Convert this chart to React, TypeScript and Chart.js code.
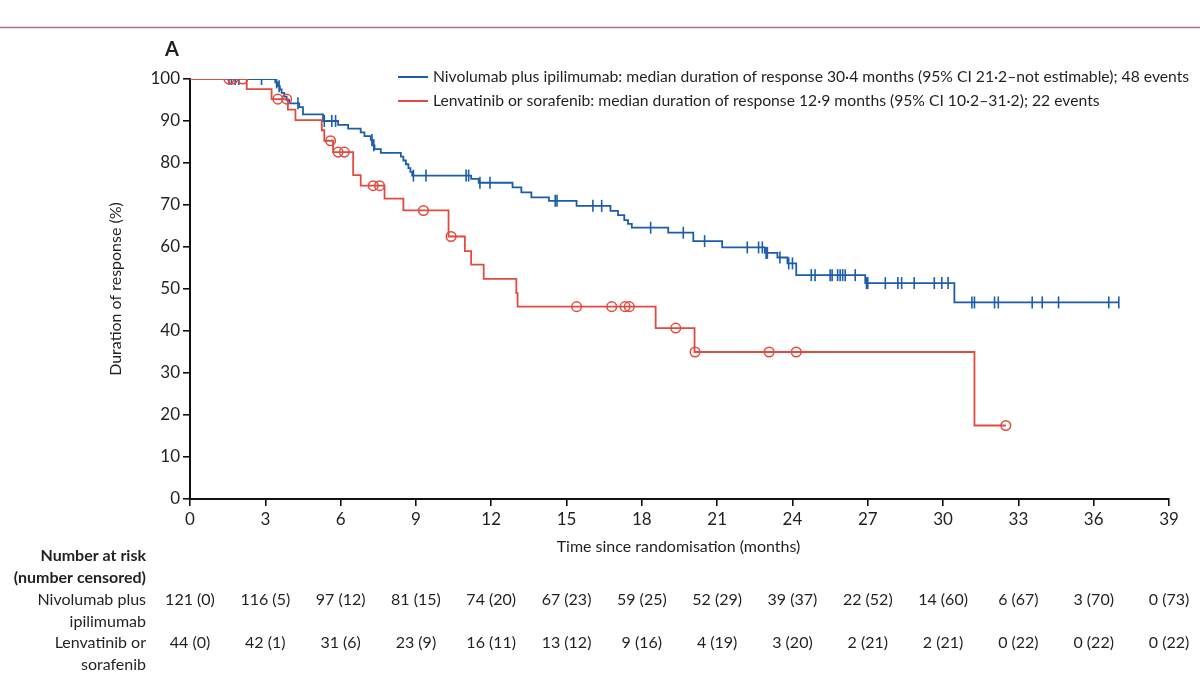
import React, { useEffect, useRef } from "react";
import { Chart, registerables } from "chart.js";

Chart.register(...registerables);

const FONT = "Lato, 'Liberation Sans', sans-serif";
const TEXT = "#231f20";
const BLUE = "#1c5ca8";
const RED = "#e04a3f";

// axis ticks
const xTicks = [0, 3, 6, 9, 12, 15, 18, 21, 24, 27, 30, 33, 36, 39];
const yTicks = [0, 10, 20, 30, 40, 50, 60, 70, 80, 90, 100];

// Nivolumab plus ipilimumab: event times (months) and KM estimate after event (%)
const nivoEventTimes = [3.4, 3.5, 3.58, 3.65, 3.75, 3.85, 3.95, 4.35, 4.5, 5.3, 5.9, 6.3, 6.8, 6.95, 7.2, 7.28, 7.35, 7.6, 8.4, 8.5, 8.6, 8.7, 8.78, 8.85, 11.2, 11.5, 12.85, 13.2, 13.6, 14.3, 15.4, 16.75, 17.05, 17.3, 17.45, 17.6, 19.05, 20.05, 21.2, 22.9, 23.4, 23.8, 24.15, 26.9, 30.45];
const nivoEventSurv = [99.2, 98.3, 97.5, 96.7, 95.8, 95.0, 94.2, 93.3, 91.6, 90.0, 89.1, 88.2, 87.3, 86.4, 85.5, 84.2, 83.3, 82.4, 81.5, 80.6, 79.7, 78.8, 77.9, 77.0, 76.2, 75.3, 74.2, 73.0, 71.8, 71.0, 69.8, 68.6, 67.6, 66.4, 65.5, 64.6, 63.4, 61.4, 59.9, 58.6, 57.5, 56.1, 53.3, 51.4, 46.8];
const nivoEndTime = 37.0;
const nivoCensorTimes = [1.55, 1.65, 1.8, 1.95, 2.85, 3.45, 3.55, 4.3, 5.35, 5.65, 5.8, 7.25, 7.32, 8.9, 9.4, 11.0, 11.1, 11.55, 11.95, 14.55, 14.62, 16.05, 16.4, 18.35, 19.65, 20.5, 22.2, 22.65, 22.8, 22.95, 23.0, 23.5, 23.85, 24.0, 24.75, 24.9, 25.5, 25.58, 25.8, 25.9, 26.0, 26.1, 26.5, 26.95, 27.0, 27.7, 28.2, 28.35, 28.85, 29.65, 29.95, 30.2, 31.15, 31.25, 32.05, 32.2, 33.55, 33.95, 34.6, 36.6, 37.0];

// Lenvatinib or sorafenib
const lenvaEventTimes = [2.26, 3.25, 3.9, 4.2, 5.25, 5.35, 5.7, 6.5, 6.8, 7.75, 8.5, 10.3, 10.95, 11.2, 11.7, 13.0, 13.05, 18.55, 20.1, 31.25];
const lenvaEventSurv = [97.6, 95.2, 92.7, 90.2, 87.8, 85.3, 82.6, 77.1, 74.6, 71.5, 68.7, 62.5, 59.0, 55.8, 52.4, 49.0, 45.8, 40.7, 35.0, 17.5];
const lenvaEndTime = 32.5;
const lenvaCensorTimes = [1.55, 1.7, 2.1, 3.5, 3.85, 5.6, 5.9, 6.15, 7.3, 7.55, 9.3, 10.4, 15.4, 16.8, 17.33, 17.5, 19.35, 20.12, 23.07, 24.15, 32.5];

// number at risk (number censored)
const riskTimes = [0, 3, 6, 9, 12, 15, 18, 21, 24, 27, 30, 33, 36, 39];
const nivoAtRisk = ["121 (0)", "116 (5)", "97 (12)", "81 (15)", "74 (20)", "67 (23)", "59 (25)", "52 (29)", "39 (37)", "22 (52)", "14 (60)", "6 (67)", "3 (70)", "0 (73)"];
const lenvaAtRisk = ["44 (0)", "42 (1)", "31 (6)", "23 (9)", "16 (11)", "13 (12)", "9 (16)", "4 (19)", "3 (20)", "2 (21)", "2 (21)", "0 (22)", "0 (22)", "0 (22)"];

const legendLabels = [
  "Nivolumab plus ipilimumab: median duration of response 30·4 months (95% CI 21·2–not estimable); 48 events",
  "Lenvatinib or sorafenib: median duration of response 12·9 months (95% CI 10·2–31·2); 22 events",
];
const rowLabels = [["Nivolumab plus", "ipilimumab"], ["Lenvatinib or", "sorafenib"]];
const xTitle = "Time since randomisation (months)";
const yTitle = "Duration of response (%)";
const panelLabel = "A";

function stepPoints(times: number[], surv: number[], end: number) {
  const pts = [{ x: 0, y: 100 }];
  times.forEach((t, i) => pts.push({ x: t, y: surv[i] }));
  pts.push({ x: end, y: surv[surv.length - 1] });
  return pts;
}

function levelAt(times: number[], surv: number[], t: number) {
  let v = 100;
  for (let i = 0; i < times.length; i++) if (times[i] <= t) v = surv[i];
  return v;
}

const extrasPlugin = {
  id: "extras",
  afterDraw(chart: any) {
    const ctx = chart.ctx as CanvasRenderingContext2D;
    const xs = chart.scales.x;
    const area = chart.chartArea;
    ctx.save();
    // top rule
    ctx.strokeStyle = "#b06a78";
    ctx.lineWidth = 1.5;
    ctx.beginPath();
    ctx.moveTo(0, 27.5);
    ctx.lineTo(1200, 27.5);
    ctx.stroke();

    ctx.fillStyle = TEXT;
    ctx.textBaseline = "middle";
    // panel label
    ctx.font = `bold 20px ${FONT}`;
    ctx.textAlign = "left";
    ctx.fillText(panelLabel, 165, 50);

    // legend
    ctx.font = `15.7px ${FONT}`;
    const legendColors = [BLUE, RED];
    legendLabels.forEach((lab, i) => {
      const y = 77 + i * 24;
      ctx.strokeStyle = legendColors[i];
      ctx.lineWidth = 2;
      ctx.beginPath();
      ctx.moveTo(398, y);
      ctx.lineTo(428, y);
      ctx.stroke();
      ctx.fillStyle = TEXT;
      ctx.fillText(lab, 433, y);
    });

    // axis titles
    ctx.font = `16px ${FONT}`;
    ctx.textAlign = "center";
    ctx.fillText(xTitle, (area.left + area.right) / 2 - 1, 547);
    ctx.save();
    ctx.translate(116, (area.top + area.bottom) / 2);
    ctx.rotate(-Math.PI / 2);
    ctx.fillText(yTitle, 0, 0);
    ctx.restore();

    // number at risk table
    ctx.textAlign = "right";
    ctx.font = `bold 16px ${FONT}`;
    ctx.fillText("Number at risk", 146, 556);
    ctx.fillText("(number censored)", 146, 578);
    ctx.font = `16px ${FONT}`;
    ctx.fillText(rowLabels[0][0], 146, 600);
    ctx.fillText(rowLabels[0][1], 146, 622);
    ctx.fillText(rowLabels[1][0], 146, 643);
    ctx.fillText(rowLabels[1][1], 146, 665);
    ctx.textAlign = "center";
    riskTimes.forEach((t, i) => {
      const px = xs.getPixelForValue(t);
      ctx.fillText(nivoAtRisk[i], px, 600);
      ctx.fillText(lenvaAtRisk[i], px, 643);
    });
    ctx.restore();
  },
};

export default function App() {
  const ref = useRef<HTMLCanvasElement>(null);
  useEffect(() => {
    const canvas = ref.current;
    if (!canvas) return;
    const nivoLine = stepPoints(nivoEventTimes, nivoEventSurv, nivoEndTime);
    const lenvaLine = stepPoints(lenvaEventTimes, lenvaEventSurv, lenvaEndTime);
    const nivoCens = nivoCensorTimes.map((t) => ({ x: t, y: levelAt(nivoEventTimes, nivoEventSurv, t) }));
    const lenvaCens = lenvaCensorTimes.map((t) => ({ x: t, y: levelAt(lenvaEventTimes, lenvaEventSurv, t) }));
    const tickFont = { family: FONT, size: 17 };
    const chart = new Chart(canvas, {
      type: "line",
      data: {
        datasets: [
          {
            data: lenvaCens,
            showLine: false,
            pointStyle: "circle",
            pointRadius: 4.8,
            pointBorderWidth: 1.5,
            pointBorderColor: RED,
            pointBackgroundColor: "rgba(0,0,0,0)",
          },
          {
            data: nivoCens,
            showLine: false,
            pointStyle: "line",
            pointRotation: 90,
            pointRadius: 6,
            pointBorderWidth: 1.6,
            pointBorderColor: BLUE,
          },
          {
            data: lenvaLine,
            stepped: true,
            borderColor: RED,
            borderWidth: 1.8,
            pointRadius: 0,
            fill: false,
          },
          {
            data: nivoLine,
            stepped: true,
            borderColor: BLUE,
            borderWidth: 1.8,
            pointRadius: 0,
            fill: false,
          },
        ],
      } as any,
      options: {
        responsive: false,
        animation: false,
        events: [],
        layout: { padding: { left: 0, top: 79, right: 31, bottom: 0 } },
        plugins: { legend: { display: false }, tooltip: { enabled: false } },
        scales: {
          x: {
            type: "linear",
            min: 0,
            max: 39,
            afterBuildTicks: (s: any) => {
              s.ticks = xTicks.map((v) => ({ value: v }));
            },
            afterFit: (s: any) => {
              s.height = 197;
            },
            ticks: { font: tickFont, color: TEXT, padding: 3, maxRotation: 0, autoSkip: false },
            grid: { drawOnChartArea: false, drawTicks: true, tickLength: 7, color: "#111", lineWidth: 1.6 },
            border: { color: "#111", width: 2 },
          },
          y: {
            type: "linear",
            min: 0,
            max: 100,
            afterBuildTicks: (s: any) => {
              s.ticks = yTicks.map((v) => ({ value: v }));
            },
            afterFit: (s: any) => {
              s.width = 190;
            },
            ticks: { font: tickFont, color: TEXT, padding: 3, autoSkip: false },
            grid: { drawOnChartArea: false, drawTicks: true, tickLength: 7, color: "#111", lineWidth: 1.6 },
            border: { color: "#111", width: 2 },
          },
        },
      } as any,
      plugins: [extrasPlugin],
    });
    return () => chart.destroy();
  }, []);
  return (
    <div style={{ position: "fixed", left: 0, top: 0, width: 1200, height: 696, background: "#fff" }}>
      <canvas ref={ref} width={1200} height={696} style={{ width: 1200, height: 696, display: "block" }} />
    </div>
  );
}
